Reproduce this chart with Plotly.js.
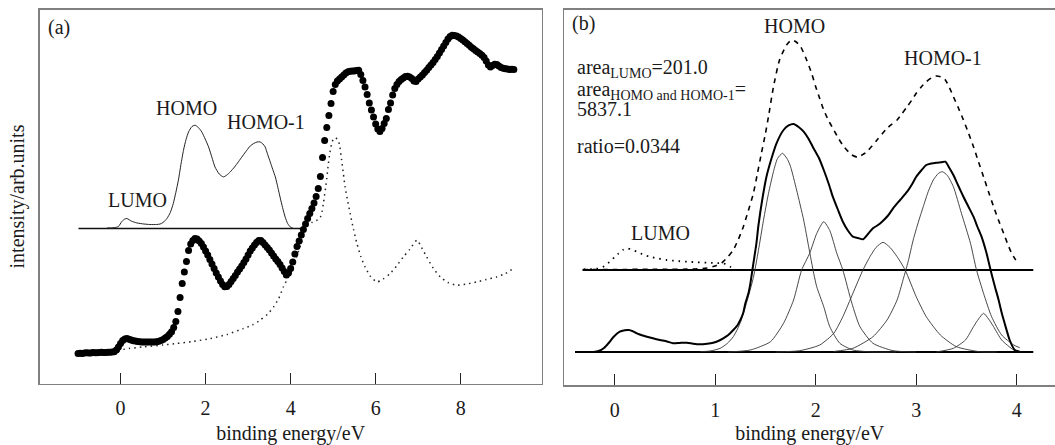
<!DOCTYPE html>
<html><head><meta charset="utf-8">
<script src="https://cdn.plot.ly/plotly-3.0.1.min.js"></script>
<style>html,body{margin:0;padding:0;background:#fff}#chart{width:1055px;height:445px}</style>
</head><body><div id="chart"></div>
<script>
// ---------- Panel (a) ----------
const aDotsEnergy = [-1,-0.95,-0.9,-0.85,-0.8,-0.75,-0.7,-0.65,-0.6,-0.55,-0.5,-0.45,-0.4,-0.35,-0.3,-0.25,-0.2,-0.15,-0.1,-0.05,
0,0.05,0.1,0.15,0.2,0.25,0.3,0.35,0.4,0.45,0.5,0.55,0.6,0.65,0.7,0.75,0.8,0.85,0.9,0.95,
1,1.05,1.1,1.15,1.2,1.25,1.3,1.35,1.4,1.45,1.5,1.55,1.6,1.65,1.7,1.75,1.8,1.85,1.9,1.95,
2,2.05,2.1,2.15,2.2,2.25,2.3,2.35,2.4,2.45,2.5,2.55,2.6,2.65,2.7,2.75,2.8,2.85,2.9,2.95,
3,3.05,3.1,3.15,3.2,3.25,3.3,3.35,3.4,3.45,3.5,3.55,3.6,3.65,3.7,3.75,3.8,3.85,3.9,3.95,
4,4.05,4.1,4.15,4.2,4.25,4.3,4.35,4.4,4.45,4.5,4.55,4.6,4.65,4.7,4.75,4.8,4.85,4.9,4.95,
5,5.05,5.1,5.15,5.2,5.25,5.3,5.35,5.4,5.45,5.5,5.55,5.6,5.65,5.7,5.75,5.8,5.85,5.9,5.95,
6,6.05,6.1,6.15,6.2,6.25,6.3,6.35,6.4,6.45,6.5,6.55,6.6,6.65,6.7,6.75,6.8,6.85,6.9,6.95,
7,7.05,7.1,7.15,7.2,7.25,7.3,7.35,7.4,7.45,7.5,7.55,7.6,7.65,7.7,7.75,7.8,7.85,7.9,7.95,
8,8.05,8.1,8.15,8.2,8.25,8.3,8.35,8.4,8.45,8.5,8.55,8.6,8.65,8.7,8.75,8.8,8.85,8.9,8.95,
9,9.05,9.1,9.15,9.2,9.25];
const aDotsIntensity = [30.0,30.2,30.0,30.4,30.8,30.5,30.6,31.0,30.8,30.7,31.0,31.2,31.0,31.0,31.3,31.2,31.4,31.8,33.5,36.5,
40.0,43.0,44.6,45.0,44.2,43.4,42.8,42.4,42.0,41.7,41.6,41.4,41.5,41.4,41.6,41.5,41.6,41.8,42.2,43.0,
44.0,45.4,47.0,49.2,51.8,56.0,62.0,72.0,86.0,100.0,111.5,122.0,133.0,139.5,143.0,145.0,144.5,142.5,140.0,136.5,
132.5,128.5,124.0,119.5,115.0,110.5,106.5,102.5,99.0,96.8,97.0,99.0,102.0,105.0,108.0,111.5,114.5,117.5,121.0,124.5,
128.5,132.5,135.5,138.5,141.0,143.0,143.0,141.0,138.5,136.0,133.5,130.5,127.5,124.5,122.0,119.0,115.5,112.0,108.5,110.5,
115.0,121.5,129.5,137.0,142.5,148.5,154.0,159.5,165.0,170.0,175.0,180.5,187.0,195.0,207.0,226.0,243.0,256.0,268.0,280.0,
292.0,299.0,302.5,304.5,306.5,308.5,310.5,311.8,312.2,312.4,312.6,313.0,313.2,309.0,303.0,296.6,289.0,280.5,273.5,266.6,
259.5,254.5,252.0,255.0,260.0,265.0,274.0,280.5,288.5,295.0,299.0,302.0,304.0,305.5,307.0,307.3,306.5,305.0,302.5,302.0,
304.5,306.6,308.5,311.0,313.3,316.0,318.5,321.0,324.0,327.0,330.5,334.0,337.5,341.0,344.5,347.0,348.3,348.0,347.4,346.6,
345.0,343.5,341.8,340.0,338.2,336.3,334.8,333.0,331.5,330.0,328.3,326.0,322.5,318.5,316.5,318.0,319.2,319.0,317.5,316.0,
315.2,314.8,314.5,314.0,314.2,314.0];

const aBgEnergy = [-0.05,0,0.2,0.54,1,1.32,1.7,2.11,2.5,2.89,3.1,3.28,3.45,3.6,3.72,3.83,3.99,4.1,4.22,4.3,4.38,4.5,4.6,4.68,4.74,4.77,4.82,4.85,4.88,4.92,4.96,5.01,5.06,5.12,5.16,5.2,5.24,5.28,5.34,5.4,5.48,5.56,5.65,5.75,5.88,6.03,6.18,6.34,6.5,6.65,6.8,6.97,7.08,7.2,7.35,7.52,7.7,7.91,8.15,8.38,8.6,8.85,9.05,9.24];
const aBgIntensity = [32,33.5,35,36.6,38.5,40,42,45,49,55,58.5,63.3,69,76.6,85,96.6,110,122,136.6,147,156.6,161,163,164.5,172,180,195,205,217,230,239,245,245.5,243.3,236,223.3,210,196.6,183,170,154,140,127,116.6,107,101.6,104.5,110,118,126.6,134,143.3,136,126.6,115.5,106.6,101,98.3,99.5,101.6,104,106.6,110,115];

const aSpecEnergy = [-0.32,-0.15,-0.05,0.03,0.1,0.15,0.25,0.38,0.55,0.69,0.85,0.93,1,1.09,1.17,1.24,1.3,1.36,1.42,1.48,1.54,1.6,1.68,1.75,1.83,1.91,1.99,2.07,2.15,2.22,2.32,2.42,2.5,2.58,2.68,2.77,2.87,2.97,3.05,3.13,3.21,3.28,3.35,3.4,3.46,3.52,3.58,3.64,3.7,3.75,3.81,3.87,3.93,3.99,4.07];
const aSpecIntensity = [155.5,155.8,157,162,164.5,165,162.5,160.6,159.5,159,159,159.5,161,165,171,180,191,203.3,219,233.3,244,251.6,257,258.3,256,251.6,244.5,236.6,226,216.6,209.5,206.6,208.5,211.6,216.5,221.6,227.5,233.3,237.5,240,241.5,241.6,239.5,236.6,229,221.6,214,206.6,196,186.6,176,166.6,160,156.6,155];

const aBaseEnergy = [-0.99, 4.26];
const aBaseIntensity = [155, 155];

// ---------- Panel (b) ----------
const bBaseLowEnergy = [-0.395, 4.165];
const bBaseLowIntensity = [33.5, 33.5];
const bBaseHighEnergy = [-0.318, 4.165];
const bBaseHighIntensity = [115.5, 115.5];

const bTotalEnergy = [-0.3,-0.21,-0.16,-0.11,-0.06,-0.01,0.05,0.1,0.14,0.18,0.22,0.27,0.32,0.38,0.45,0.52,0.58,0.65,0.72,0.78,0.85,0.92,0.98,1.03,1.08,1.13,1.18,1.22,1.25,1.28,1.3,1.33,1.35,1.38,1.41,1.43,1.47,1.51,1.56,1.61,1.68,1.73,1.78,1.83,1.88,1.93,1.97,2.03,2.08,2.13,2.17,2.22,2.27,2.32,2.37,2.42,2.47,2.52,2.57,2.62,2.66,2.72,2.77,2.84,2.91,2.96,3,3.05,3.1,3.15,3.2,3.25,3.29,3.33,3.37,3.42,3.47,3.52,3.57,3.61,3.65,3.7,3.74,3.78,3.82,3.85,3.88,3.93,3.98,4.03];
const bTotalIntensity = [33.5,33.6,34.5,37.2,42.5,48.8,53.8,55.2,55.5,54.3,52.2,50.3,48.8,47.2,45.5,44,42.2,42.6,42.8,41.8,41.2,41.8,42.8,44.5,47.2,50.5,55.5,60,65.5,73,82.2,92,102.2,122.2,142.2,160,187,208.8,227,242.2,255.5,260,261.5,258.5,253.8,246.5,238.8,228,215.5,201.5,188.8,176,163.8,155,148.8,147.5,146.2,151.5,157.2,160.5,163.8,170,177.2,185.5,193.8,201.5,208.8,215,220.5,222,222.8,223.3,223.8,217.5,210.5,199.5,188.8,178.8,168.8,158.5,148.8,132.2,115.5,100,85.5,73,62.2,45.5,35.5,33.8];

const bMagEnergy = [-0.32,0,0.4,0.8,0.92,1,1.07,1.12,1.18,1.23,1.28,1.33,1.38,1.42,1.46,1.5,1.53,1.58,1.64,1.71,1.76,1.8,1.85,1.91,1.96,2,2.04,2.08,2.13,2.18,2.23,2.28,2.36,2.42,2.46,2.51,2.56,2.61,2.66,2.71,2.76,2.81,2.86,2.91,2.96,3,3.05,3.1,3.15,3.2,3.25,3.29,3.33,3.37,3.42,3.47,3.52,3.57,3.62,3.67,3.72,3.77,3.82,3.87,3.91,3.95,4];
const bMagIntensity = [115.8,116,116.2,116.5,117.5,119.5,123,128,135.5,146,158.8,175,192.2,212,232.2,252,268.8,298.8,325.5,340.5,345.5,344,338.8,325.5,312,298.8,287,275.5,264.5,255.5,246.5,238.8,230.5,228.2,230.5,233.8,239.5,245.5,251.5,257.2,261.5,265.5,272,278.8,286,292.2,298.5,303.8,307.5,309.5,308.5,305.5,298,288.8,277.5,265.5,252.5,238.8,223.5,208.8,193.5,178.8,165,152.2,141.5,132.2,123.8];

const bLumoMagEnergy = [-0.31,-0.22,-0.15,-0.1,-0.05,0,0.04,0.08,0.12,0.17,0.22,0.28,0.35,0.43,0.52,0.62,0.72,0.82,0.92,1,1.08,1.12,1.15,1.18,1.21];
const bLumoMagIntensity = [116.2,116.5,117.2,119.5,123.8,128.5,132.2,135.5,137.2,136,133.8,131,128.8,127,125.5,124.5,123.8,123.2,122.8,122.5,122.2,120.5,118.8,117,115.5];

const bComp1Energy = [0.85,0.95,1.05,1.12,1.18,1.22,1.26,1.31,1.38,1.43,1.48,1.53,1.58,1.62,1.67,1.72,1.75,1.81,1.88,1.93,1.98,2.01,2.08,2.14,2.24,2.37,2.55,2.8];
const bComp1Intensity = [33.8,34.5,37.2,42,48.8,56,65.5,82,108,135,165,192,214,227,232.2,226,218.8,195.5,165.5,138.8,112.2,98.8,78.8,58.8,42.2,35.5,33.6,33.5];
const bComp2Energy = [1.13,1.35,1.55,1.68,1.78,1.86,1.94,2.01,2.08,2.14,2.21,2.27,2.36,2.44,2.57,2.77,3];
const bComp2Intensity = [33.5,35.5,43.8,62.2,85.5,115.5,132.2,152,163.8,155,132.2,115.5,82.2,58.8,42.2,34.8,33.5];
const bComp3Energy = [1.6,1.84,2.04,2.18,2.27,2.37,2.47,2.54,2.6,2.67,2.74,2.81,2.89,3,3.1,3.24,3.4,3.63,3.8];
const bComp3Intensity = [33.5,34.8,40.5,52.2,68.8,92.2,115.5,128.8,138,143.2,138,128.8,115.5,88.8,68.8,50.5,38.8,33.8,33.5];
const bComp4Energy = [2.18,2.37,2.57,2.71,2.81,2.87,2.92,2.97,3.02,3.07,3.12,3.17,3.22,3.26,3.31,3.37,3.45,3.54,3.6,3.67,3.75,3.85,3.97,4.03];
const bComp4Intensity = [34,37.2,48.8,65.5,85.5,106,124,145.5,163,178.8,194,205.5,212,213.8,210,198.8,172.2,142.2,115.5,92.2,68.8,50.5,40.5,37.8];
const bComp5Energy = [3.2,3.37,3.49,3.57,3.62,3.67,3.72,3.77,3.85,3.97,4.03];
const bComp5Intensity = [33.5,37.2,45.5,58.8,66.5,72.2,66.5,58.8,45.5,35.5,33.5];

const aTicks = [0, 2, 4, 6, 8];
const bTicks = [0, 1, 2, 3, 4];

// ---------- traces ----------
const FONT = 'Liberation Serif, "Times New Roman", Times, serif';
const traces = [];
function line(x, y, xa, ya, w, color, dash, shape) {
  traces.push({x: x, y: y, xaxis: xa, yaxis: ya, type: 'scatter', mode: 'lines',
    line: {color: color, width: w, dash: dash || 'solid', shape: shape || 'linear', smoothing: 0.6},
    hoverinfo: 'skip'});
}
// panel a
line(aBaseEnergy, aBaseIntensity, 'x', 'y', 1.6, '#111');
line(aSpecEnergy, aSpecIntensity, 'x', 'y', 1, '#222', 'solid', 'spline');
line(aBgEnergy, aBgIntensity, 'x', 'y', 1.5, '#222', '1.5px,4px', 'spline');
traces.push({x: aDotsEnergy, y: aDotsIntensity, xaxis: 'x', yaxis: 'y', type: 'scatter', mode: 'markers',
  marker: {color: '#000', size: 7}, hoverinfo: 'skip'});
// panel b
line(bBaseLowEnergy, bBaseLowIntensity, 'x2', 'y2', 1.8, '#000');
line(bBaseHighEnergy, bBaseHighIntensity, 'x2', 'y2', 1.8, '#000');
[[bComp1Energy,bComp1Intensity],[bComp2Energy,bComp2Intensity],[bComp3Energy,bComp3Intensity],
 [bComp4Energy,bComp4Intensity],[bComp5Energy,bComp5Intensity]].forEach(c => line(c[0], c[1], 'x2', 'y2', 0.9, '#333', 'solid', 'spline'));
line(bTotalEnergy, bTotalIntensity, 'x2', 'y2', 2, '#000', 'solid', 'spline');
line(bMagEnergy, bMagIntensity, 'x2', 'y2', 1.6, '#000', '5px,5px', 'spline');
line(bLumoMagEnergy, bLumoMagIntensity, 'x2', 'y2', 1.8, '#000', '1.5px,5px', 'spline');

const axFrame = {showline: true, linecolor: '#808080', linewidth: 1.5, showgrid: false, zeroline: false};
const layout = {
  width: 1055, height: 445, margin: {l: 0, r: 0, t: 0, b: 0},
  paper_bgcolor: '#fff', plot_bgcolor: '#fff', showlegend: false,
  font: {family: FONT, size: 20, color: '#1a1a1a'},
  xaxis: Object.assign({}, axFrame, {domain: [0.03754, 0.51346], range: [-1.904, 9.905], anchor: 'y', mirror: true,
    tickmode: 'array', tickvals: aTicks, ticks: 'inside', ticklen: 11, tickwidth: 1, tickcolor: '#222',
    ticklabelstandoff: 6, tickfont: {family: FONT, size: 20, color: '#1a1a1a'},
    title: {text: 'binding energy/eV', standoff: 12, font: {family: FONT, size: 20, color: '#1a1a1a'}}}),
  yaxis: Object.assign({}, axFrame, {domain: [0.1382, 0.97865], range: [0, 374], anchor: 'x', mirror: true,
    showticklabels: false, ticks: '',
    title: {text: 'intensity/arb.units', standoff: 8, font: {family: FONT, size: 20, color: '#1a1a1a'}}}),
  xaxis2: Object.assign({}, axFrame, {domain: [0.53507, 1], range: [-0.4995, 4.381], anchor: 'y2', mirror: true,
    tickmode: 'array', tickvals: bTicks, ticks: 'inside', ticklen: 11, tickwidth: 1, tickcolor: '#222',
    ticklabelstandoff: 6, tickfont: {family: FONT, size: 20, color: '#1a1a1a'},
    title: {text: 'binding energy/eV', standoff: 12, font: {family: FONT, size: 20, color: '#1a1a1a'}}}),
  yaxis2: Object.assign({}, axFrame, {domain: [0.13371, 0.97753], range: [0, 375.5], anchor: 'x2', mirror: false,
    showticklabels: false, ticks: ''}),
  annotations: [
    {xref: 'x', yref: 'y', x: -1.44, y: 356.5, text: '(a)'},
    {xref: 'x', yref: 'y', x: 1.54, y: 275.5, text: 'HOMO'},
    {xref: 'x', yref: 'y', x: 3.41, y: 261.8, text: 'HOMO-1'},
    {xref: 'x', yref: 'y', x: 0.40, y: 183.5, text: 'LUMO'},
    {xref: 'x2', yref: 'y2', x: -0.31, y: 362, text: '(b)'},
    {xref: 'x2', yref: 'y2', x: 1.789, y: 359.5, text: 'HOMO'},
    {xref: 'x2', yref: 'y2', x: 3.27, y: 327, text: 'HOMO-1'},
    {xref: 'x2', yref: 'y2', x: 0.459, y: 152.2, text: 'LUMO'},
    {xref: 'x2', yref: 'y2', x: -0.393, y: 316.9, xanchor: 'left', text: 'area<sub>LUMO</sub>=201.0'},
    {xref: 'x2', yref: 'y2', x: -0.393, y: 295.1, xanchor: 'left', text: 'area<sub>HOMO and HOMO-1</sub>='},
    {xref: 'x2', yref: 'y2', x: -0.393, y: 276.7, xanchor: 'left', text: '5837.1'},
    {xref: 'x2', yref: 'y2', x: -0.393, y: 239.9, xanchor: 'left', text: 'ratio=0.0344'}
  ].map(a => Object.assign({showarrow: false, font: {family: FONT, size: 20, color: '#1a1a1a'}}, a))
};
Plotly.newPlot('chart', traces, layout, {staticPlot: true, displayModeBar: false});
</script></body></html>
